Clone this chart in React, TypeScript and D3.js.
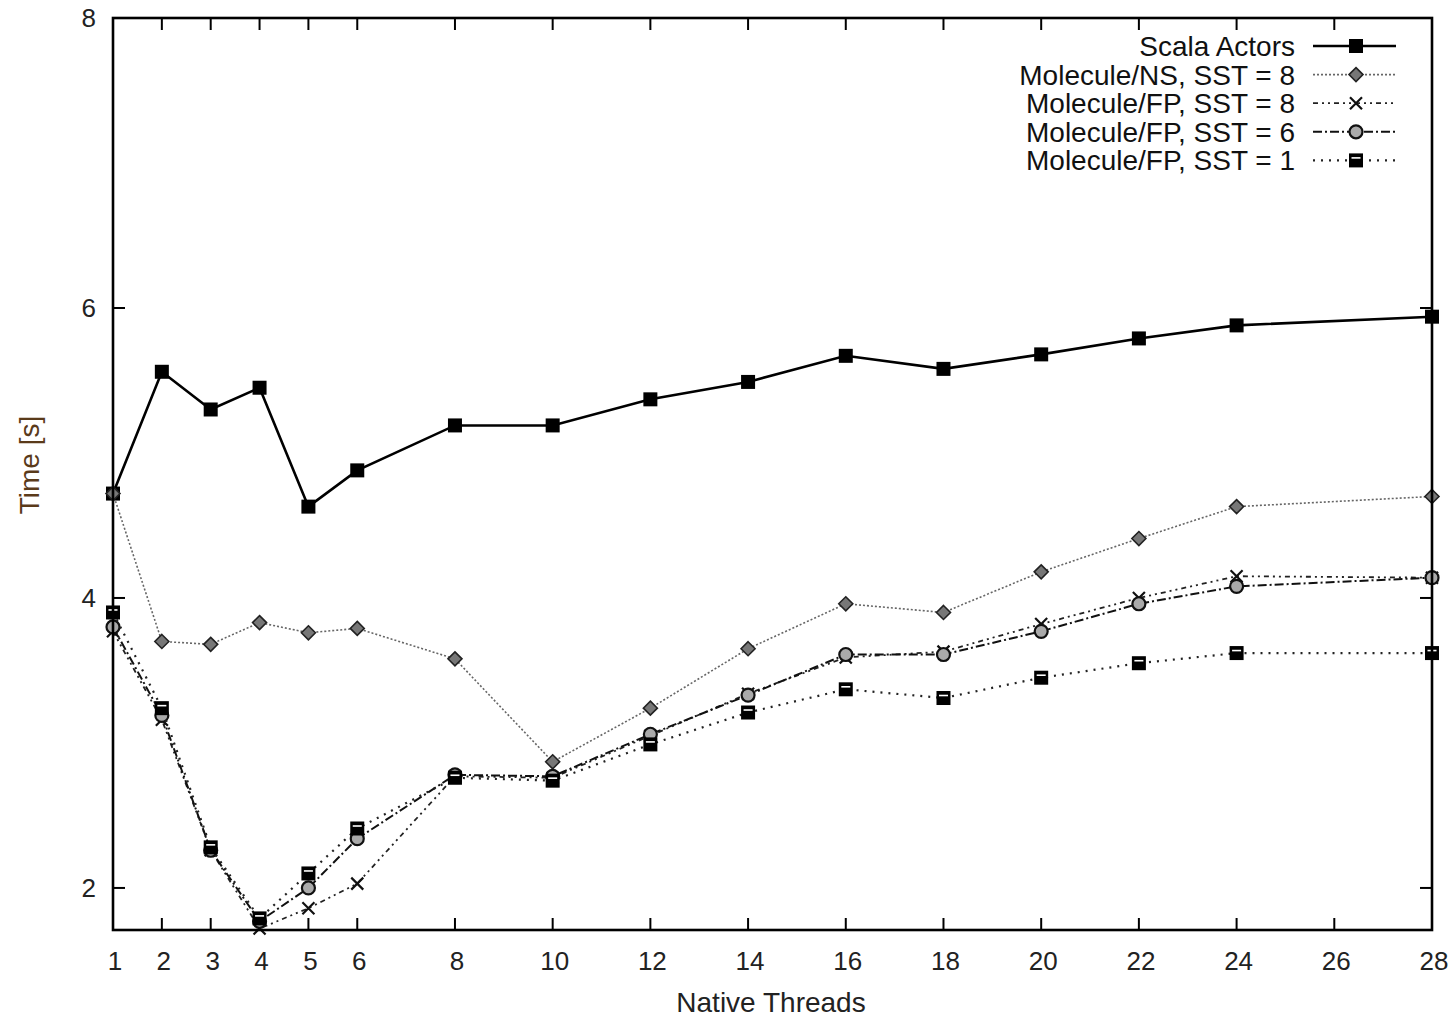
import React from 'react';
import * as d3 from 'd3';

const threads = [1, 2, 3, 4, 5, 6, 8, 10, 12, 14, 16, 18, 20, 22, 24, 28];
const xTicks = [1, 2, 3, 4, 5, 6, 8, 10, 12, 14, 16, 18, 20, 22, 24, 26, 28];
const yTicks = [2, 4, 6, 8];

const scalaActors = [4.72, 5.56, 5.3, 5.45, 4.63, 4.88, 5.19, 5.19, 5.37, 5.49, 5.67, 5.58, 5.68, 5.79, 5.88, 5.94];
const nsSst8 = [4.72, 3.7, 3.68, 3.83, 3.76, 3.79, 3.58, 2.87, 3.24, 3.65, 3.96, 3.9, 4.18, 4.41, 4.63, 4.7];
const fpSst8 = [3.77, 3.16, 2.26, 1.72, 1.86, 2.03, 2.77, 2.76, 3.05, 3.34, 3.59, 3.63, 3.82, 4.0, 4.15, 4.14];
const fpSst6 = [3.8, 3.19, 2.26, 1.77, 2.0, 2.34, 2.78, 2.77, 3.06, 3.33, 3.61, 3.61, 3.77, 3.96, 4.08, 4.14];
const fpSst1 = [3.9, 3.24, 2.28, 1.79, 2.1, 2.41, 2.76, 2.74, 2.99, 3.21, 3.37, 3.31, 3.45, 3.55, 3.62, 3.62];

const seriesNames = [
  'Scala Actors',
  'Molecule/NS, SST = 8',
  'Molecule/FP, SST = 8',
  'Molecule/FP, SST = 6',
  'Molecule/FP, SST = 1',
];

type Style = { stroke: string; width: number; dash: string; marker: string };

const styles: Style[] = [
  { stroke: '#000', width: 2.6, dash: '', marker: 'square' },
  { stroke: '#666', width: 1.6, dash: '2,2', marker: 'diamond' },
  { stroke: '#222', width: 1.8, dash: '5,4,2,4,2,4', marker: 'cross' },
  { stroke: '#111', width: 2, dash: '9,3,2,3', marker: 'circle' },
  { stroke: '#222', width: 2.2, dash: '2,6', marker: 'box' },
];

const W = 1456;
const H = 1018;
const left = 113;
const right = 1432;
const top = 18;
const bottom = 930;
const font = 'Liberation Sans, Arial, sans-serif';

function Marker({ kind, x, y }: { kind: string; x: number; y: number }) {
  if (kind === 'square') {
    return <rect x={x - 7} y={y - 7} width={14} height={14} fill="#000" />;
  }
  if (kind === 'diamond') {
    return (
      <path
        d={`M${x},${y - 7}L${x + 7},${y}L${x},${y + 7}L${x - 7},${y}Z`}
        fill="#777"
        stroke="#222"
        strokeWidth={1.6}
      />
    );
  }
  if (kind === 'cross') {
    return (
      <path
        d={`M${x - 6},${y - 6}L${x + 6},${y + 6}M${x - 6},${y + 6}L${x + 6},${y - 6}`}
        stroke="#111"
        strokeWidth={2.2}
      />
    );
  }
  if (kind === 'circle') {
    return <circle cx={x} cy={y} r={6.5} fill="#aaa" stroke="#111" strokeWidth={2.2} />;
  }
  return (
    <g>
      <rect x={x - 7} y={y - 7} width={14} height={14} fill="#000" />
      <line x1={x - 4.5} x2={x + 4.5} y1={y - 2.5} y2={y - 2.5} stroke="#fff" strokeWidth={1.6} />
    </g>
  );
}

export default function App() {
  const x = d3.scaleLinear().domain([1, 28]).range([left, right]);
  const y = d3.scaleLinear().domain([1.71, 8]).range([bottom, top]);
  const allSeries = [scalaActors, nsSst8, fpSst8, fpSst6, fpSst1];

  const line = d3
    .line<number>()
    .x((_, i) => x(threads[i]))
    .y((d) => y(d));

  const tickLen = 12;

  return (
    <svg width={W} height={H} style={{ position: 'absolute', left: 0, top: 0, background: '#fff' }}>
      <rect width={W} height={H} fill="#fff" />
      {/* ticks */}
      {xTicks.map((t) => (
        <g key={'x' + t}>
          <line x1={x(t)} x2={x(t)} y1={bottom} y2={bottom - tickLen} stroke="#000" strokeWidth={2} />
          <line x1={x(t)} x2={x(t)} y1={top} y2={top + tickLen} stroke="#000" strokeWidth={2} />
          <text x={x(t) + 2} y={970} textAnchor="middle" fontFamily={font} fontSize={26} fill="#222">
            {t}
          </text>
        </g>
      ))}
      {yTicks.map((t) => (
        <g key={'y' + t}>
          <line x1={left} x2={left + tickLen} y1={y(t)} y2={y(t)} stroke="#000" strokeWidth={2} />
          <line x1={right} x2={right - tickLen} y1={y(t)} y2={y(t)} stroke="#000" strokeWidth={2} />
          <text x={96} y={y(t) + 9} textAnchor="end" fontFamily={font} fontSize={26} fill="#222">
            {t}
          </text>
        </g>
      ))}
      <text x={771} y={1012} textAnchor="middle" fontFamily={font} fontSize={28} fill="#222">
        Native Threads
      </text>
      <text
        transform="translate(39,465) rotate(-90)"
        textAnchor="middle"
        fontFamily={font}
        fontSize={28}
        fill="#5a3a1a"
      >
        Time [s]
      </text>

      {/* series */}
      {allSeries.map((s, k) => (
        <g key={'s' + k}>
          <path
            d={line(s) || ''}
            fill="none"
            stroke={styles[k].stroke}
            strokeWidth={styles[k].width}
            strokeDasharray={styles[k].dash}
          />
          {s.map((v, i) => (
            <Marker key={i} kind={styles[k].marker} x={x(threads[i])} y={y(v)} />
          ))}
        </g>
      ))}

      {/* legend */}
      {seriesNames.map((name, k) => {
        const ly = 46 + k * 28.6;
        return (
          <g key={'l' + k}>
            <text x={1295} y={ly + 10} textAnchor="end" fontFamily={font} fontSize={28} fill="#111">
              {name}
            </text>
            <line
              x1={1313}
              x2={1396}
              y1={ly}
              y2={ly}
              stroke={styles[k].stroke}
              strokeWidth={styles[k].width}
              strokeDasharray={styles[k].dash}
            />
            <Marker kind={styles[k].marker} x={1356} y={ly} />
          </g>
        );
      })}

      {/* frame */}
      <rect x={left} y={top} width={right - left} height={bottom - top} fill="none" stroke="#000" strokeWidth={2.6} />
    </svg>
  );
}
